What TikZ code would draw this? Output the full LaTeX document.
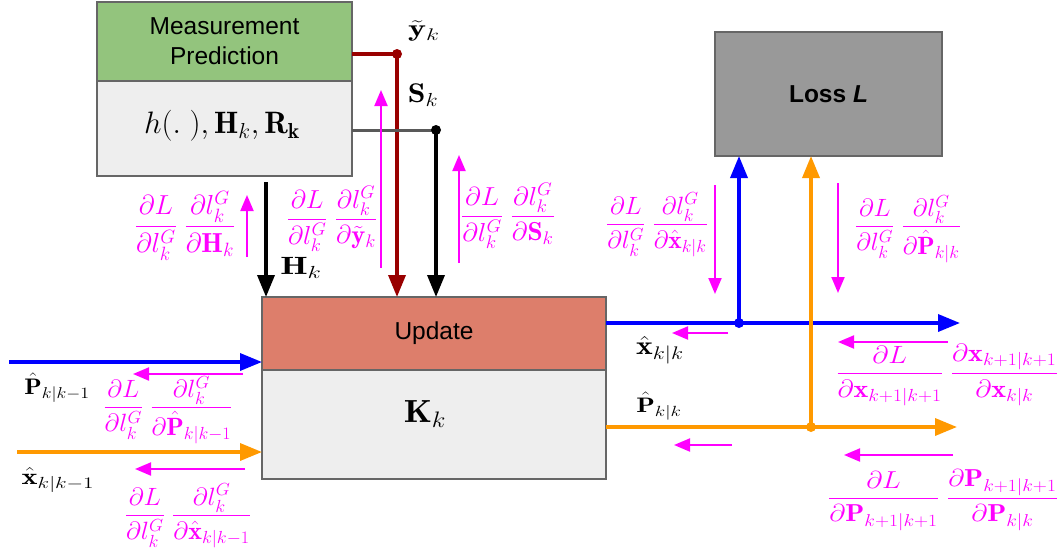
\RequirePackage{fix-cm}
\documentclass[tikz,border=0pt]{standalone}
\usepackage{amsmath}
\usepackage{graphicx}
\usepackage{fontspec}
\newfontfamily\arial{Liberation Sans}
\usetikzlibrary{arrows.meta}
\definecolor{mpgreen}{HTML}{93C47D}
\definecolor{upred}{HTML}{DD7E6B}
\definecolor{lgray}{HTML}{EEEEEE}
\definecolor{lossgray}{HTML}{999999}
\definecolor{edge}{HTML}{666666}
\definecolor{dred}{HTML}{990000}
\definecolor{dgray}{HTML}{595959}
\definecolor{myblue}{HTML}{0000FF}
\definecolor{myorange}{HTML}{FF9900}
\definecolor{mag}{HTML}{FF00FF}
% #1 font size, #2 horizontal stretch, #3 math
\newcommand\sclab[3]{\scalebox{#2}[1]{\fontsize{#1}{#1}\selectfont$\displaystyle #3$}}
\newcommand\gfr[1]{\frac{\partial L}{\partial l_k^G}\;\frac{\partial l_k^G}{\partial #1}}
\begin{document}
\begin{tikzpicture}[x=1pt,y=-1pt,
  boxst/.style={draw=edge,line width=1.5pt,inner sep=0pt,outer sep=0pt,anchor=north west},
  sanslab/.style={font=\arial\fontsize{24.5}{30}\selectfont,align=center},
  mlab/.style={inner sep=0pt},
  glab/.style={mag,inner sep=0pt},
  flow/.style={line width=3.5pt,-{Triangle[length=22pt,width=17pt]}},
  grad/.style={mag,line width=2pt,-{Triangle[length=16pt,width=13pt]}},
  dot/.style={circle,fill,inner sep=0pt,minimum size=10pt}
]
\useasboundingbox (0,0) rectangle (1063,554);
% boxes
\node[boxst,fill=mpgreen,minimum width=255pt,minimum height=79pt,sanslab] (mpt) at (97,2) {Measurement\\Prediction};
\node[boxst,fill=lgray,minimum width=255pt,minimum height=95pt] (mpb) at (97,81) {};
\node[inner sep=0pt] (hrow) at (222,126) {\sclab{31}{1}{h(.\;),\mathbf{H}_k,\mathbf{R_k}}};
\node[boxst,fill=lossgray,minimum width=227pt,minimum height=124pt,font=\arial\bfseries\fontsize{24.5}{30}\selectfont] (loss) at (715,32) {Loss \textit{L}};
\node[boxst,fill=upred,minimum width=344pt,minimum height=73pt,sanslab] (upt) at (262,297) {Update};
\node[boxst,fill=lgray,minimum width=344pt,minimum height=109pt] (upb) at (262,370) {};
\node[inner sep=0pt] (kk) at (425,414) {\sclab{32}{1.12}{\mathbf{K}_k}};
% coordinates
\coordinate (ydot) at (397,54);
\coordinate (sdot) at (436,130);
\coordinate (hx) at (266,0);
\coordinate (pin) at (9,362);
\coordinate (xin) at (17,452);
\coordinate (xout) at (960,323);
\coordinate (pout) at (957,427);
\coordinate (xdot) at (739,323);
\coordinate (pdot) at (811,427);
% forward connectors
\draw[dred,line width=3.5pt] (ydot -| mpt.east) -- (ydot);
\draw[dred,flow] (ydot) -- (ydot |- upt.north);
\draw[dgray,line width=3pt] (sdot -| mpb.east) -- (sdot);
\draw[black,flow] (sdot) -- (sdot |- upt.north);
\draw[black,flow] ([yshift=-6pt]hx |- mpb.south) -- (hx |- upt.north);
\draw[myblue,flow] (pin) -- (pin -| upt.west);
\draw[myorange,flow] (xin) -- (xin -| upb.west);
\draw[myblue,flow] (xout -| upt.east) -- (xout);
\draw[myorange,flow] (pout -| upb.east) -- (pout);
\draw[myblue,flow] (xdot) -- (xdot |- loss.south);
\draw[myorange,flow] (pdot) -- (pdot |- loss.south);
\node[dot,dred] (yd) at (ydot) {};
\node[dot,black] (sd) at (sdot) {};
\node[dot,myblue] (xd) at (xdot) {};
\node[dot,myorange] (pd) at (pdot) {};
% forward labels
\node[mlab] (ly) at (424,31) {\sclab{24}{1.42}{\tilde{\mathbf{y}}_k}};
\node[mlab] (ls) at (423,95) {\sclab{27}{1.18}{\mathbf{S}_k}};
\node[mlab] (lh) at (301,268) {\sclab{25}{1.4}{\mathbf{H}_k}};
\node[mlab] (lpin) at (57,388) {\sclab{22.5}{1.14}{\hat{\mathbf{P}}_{k|k-1}}};
\node[mlab] (lxin) at (58,480) {\sclab{23}{1.32}{\hat{\mathbf{x}}_{k|k-1}}};
\node[mlab] (lxout) at (660,350) {\sclab{26}{1.22}{\hat{\mathbf{x}}_{k|k}}};
\node[mlab] (lpout) at (659,406) {\sclab{21}{1.3}{\hat{\mathbf{P}}_{k|k}}};
% gradient arrows
\coordinate (g1a) at (247,257); \coordinate (g1b) at (247,195);
\coordinate (g2a) at (381,268); \coordinate (g2b) at (381,90);
\coordinate (g3a) at (459,263); \coordinate (g3b) at (459,155);
\coordinate (g4a) at (715,185); \coordinate (g4b) at (715,294);
\coordinate (g5a) at (838,183); \coordinate (g5b) at (838,293);
\coordinate (g6a) at (728,333); \coordinate (g6b) at (672,333);
\coordinate (g7a) at (948,342); \coordinate (g7b) at (838,342);
\coordinate (g8a) at (732,445); \coordinate (g8b) at (674,445);
\coordinate (g9a) at (953,455); \coordinate (g9b) at (844,455);
\coordinate (g10a) at (243,374); \coordinate (g10b) at (133,374);
\coordinate (g11a) at (245,469); \coordinate (g11b) at (135,469);
\foreach \i in {1,...,11} {\draw[grad] (g\i a) -- (g\i b);}
% gradient labels
\node[glab] (f1) at (185,226) {\sclab{27.5}{1}{\gfr{\mathbf{H}_k}}};
\node[glab] (f2) at (332,219) {\sclab{26}{1.02}{\gfr{\tilde{\mathbf{y}}_k}}};
\node[glab] (f3) at (508,216) {\sclab{26}{1.05}{\gfr{\mathbf{S}_k}}};
\node[glab] (f4) at (657,225) {\sclab{25}{1.02}{\gfr{\hat{\mathbf{x}}_{k|k}}}};
\node[glab] (f5) at (908,229) {\sclab{25}{1.02}{\gfr{\hat{\mathbf{P}}_{k|k}}}};
\node[glab] (f6) at (947,375) {\sclab{25}{1.12}{\frac{\partial L}{\partial \mathbf{x}_{k+1|k+1}}\;\frac{\partial \mathbf{x}_{k+1|k+1}}{\partial \mathbf{x}_{k|k}}}};
\node[glab] (f7) at (168,410) {\sclab{25}{1.03}{\gfr{\hat{\mathbf{P}}_{k|k-1}}}};
\node[glab] (f8) at (188,516) {\sclab{25}{1.04}{\gfr{\hat{\mathbf{x}}_{k|k-1}}}};
\node[glab] (f9) at (943,500) {\sclab{24.5}{1.14}{\frac{\partial L}{\partial \mathbf{P}_{k+1|k+1}}\;\frac{\partial \mathbf{P}_{k+1|k+1}}{\partial \mathbf{P}_{k|k}}}};
\end{tikzpicture}
\end{document}
